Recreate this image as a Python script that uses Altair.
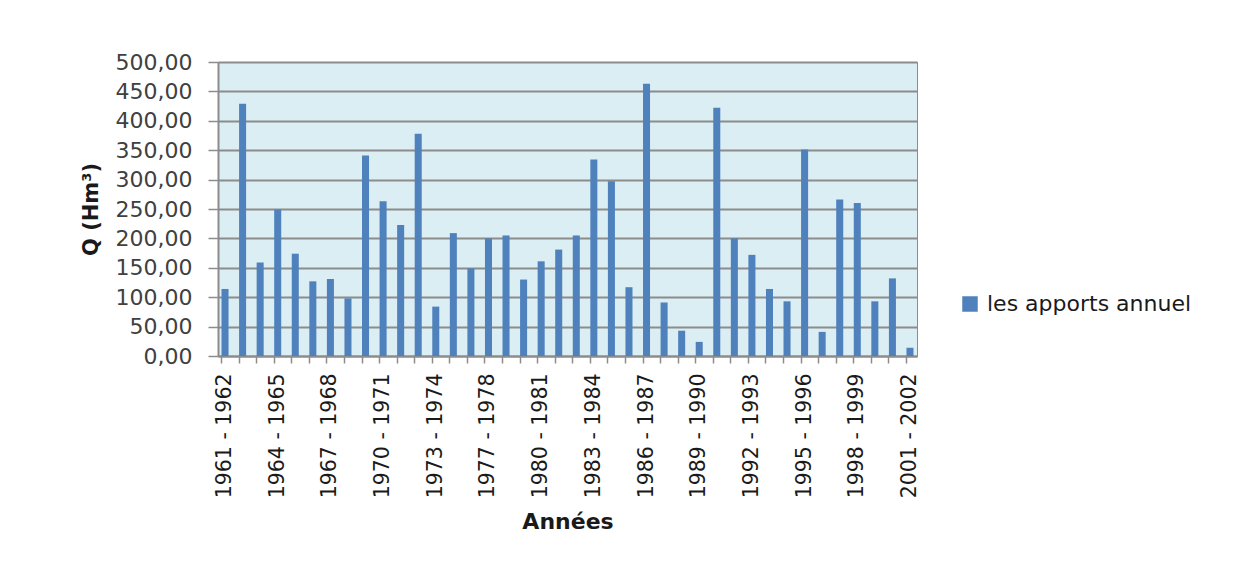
import altair as alt
import pandas as pd

periods = [
    "1961 - 1962", "1962 - 1963", "1963 - 1964", "1964 - 1965", "1965 - 1966",
    "1966 - 1967", "1967 - 1968", "1968 - 1969", "1969 - 1970", "1970 - 1971",
    "1971 - 1972", "1972 - 1973", "1973 - 1974", "1974 - 1975", "1975 - 1976",
    "1977 - 1978", "1978 - 1979", "1979 - 1980", "1980 - 1981", "1981 - 1982",
    "1982 - 1983", "1983 - 1984", "1984 - 1985", "1985 - 1986", "1986 - 1987",
    "1987 - 1988", "1988 - 1989", "1989 - 1990", "1990 - 1991", "1991 - 1992",
    "1992 - 1993", "1993 - 1994", "1994 - 1995", "1995 - 1996", "1996 - 1997",
    "1997 - 1998", "1998 - 1999", "1999 - 2000", "2000 - 2001", "2001 - 2002",
]
apports = [
    114, 429, 159, 249, 174, 127, 131, 98, 341, 263,
    223, 378, 84, 209, 149, 200, 205, 130, 161, 181,
    205, 334, 297, 117, 463, 91, 43, 24, 422, 200,
    172, 114, 93, 351, 41, 266, 260, 93, 132, 14,
]
shown_labels = periods[::3]
y_ticks = [0, 50, 100, 150, 200, 250, 300, 350, 400, 450, 500]
series_name = "les apports annuel"

df = pd.DataFrame({"periode": periods, "Q": apports, "serie": series_name})

label_list = "[" + ",".join("'" + s + "'" for s in shown_labels) + "]"

FONT = "DejaVu Sans"

chart = (
    alt.Chart(df)
    .mark_bar(color="#4f81bd")
    .encode(
        x=alt.X(
            "periode:N",
            sort=periods,
            scale=alt.Scale(paddingInner=0.6, paddingOuter=0.2),
            axis=alt.Axis(
                title="Années",
                labelAngle=270,
                labelExpr="indexof(" + label_list + ", datum.value) >= 0 ? datum.value : ''",
                labelFontSize=20.5,
                labelColor="#1a1a1a",
                labelPadding=10,
                titleFontSize=22,
                titleFontWeight="bold",
                titleColor="#1a1a1a",
                titlePadding=14,
                domainColor="#8c8c8c",
                domainWidth=2,
                tickColor="#8c8c8c",
                tickSize=7,
                tickWidth=1.5,
                bandPosition=0,
            ),
        ),
        y=alt.Y(
            "Q:Q",
            scale=alt.Scale(domain=[0, 500]),
            axis=alt.Axis(
                title="Q (Hm³)",
                values=y_ticks,
                labelExpr="replace(format(datum.value, '.2f'), '.', ',')",
                labelFontSize=22,
                labelColor="#404040",
                labelPadding=16,
                titleFontSize=21,
                titleFontWeight="bold",
                titleColor="#1a1a1a",
                titlePadding=14,
                domainColor="#8c8c8c",
                domainWidth=2,
                tickColor="#8c8c8c",
                tickSize=10,
                tickWidth=1.5,
                gridColor="#8c8c8c",
                gridWidth=2,
            ),
        ),
        fill=alt.Fill(
            "serie:N",
            scale=alt.Scale(domain=[series_name], range=["#4f81bd"]),
            legend=alt.Legend(
                title=None,
                orient="none",
                legendX=741,
                legendY=231,
                symbolType="square",
                symbolSize=240,
                symbolStrokeWidth=0,
                labelFontSize=22,
                labelColor="#1a1a1a",
                labelFont=FONT,
                labelOffset=6,
                labelLimit=400,
            ),
        ),
    )
    .properties(
        width=699,
        height=294,
        padding={"left": 210, "top": 54, "right": 334, "bottom": 224},
        autosize=alt.AutoSizeParams(type="none"),
        background="#ffffff",
    )
    .configure_view(fill="#dbeef4", stroke="#8c8c8c", strokeWidth=1)
    .configure_axis(labelFont=FONT, titleFont=FONT)
)

chart.save("out.html", embed_options={"renderer": "svg", "actions": False})
